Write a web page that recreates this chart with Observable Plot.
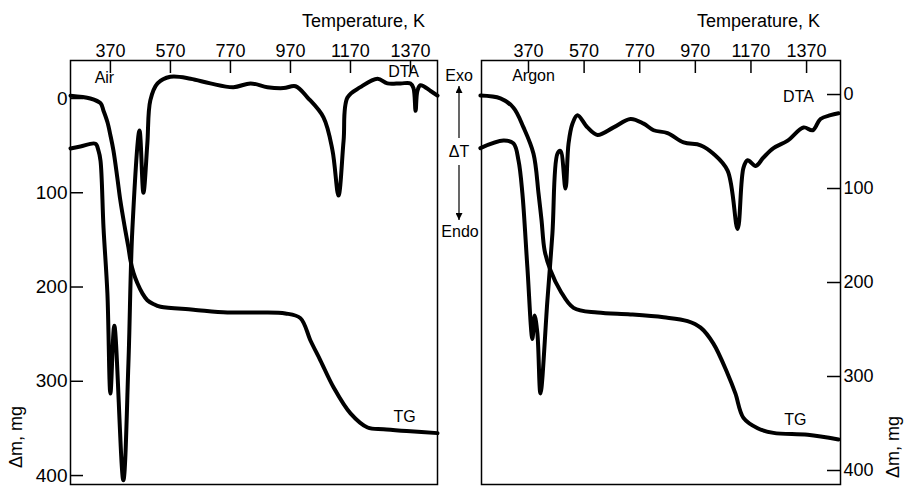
<!DOCTYPE html>
<html>
<head>
<meta charset="utf-8">
<script src="https://cdn.jsdelivr.net/npm/d3@7"></script>
<script src="https://cdn.jsdelivr.net/npm/@observablehq/plot@0.6"></script>
<style>
html, body { margin: 0; padding: 0; background: #fff; }
#wrap { position: relative; width: 904px; height: 486px; overflow: hidden;
  font-family: "Liberation Sans", Arial, sans-serif; color: #000; }
.panel { position: absolute; top: 0; }
.title { position: absolute; font-size: 18px; white-space: nowrap; transform: translate(-100%, -50%); }
.ylab { position: absolute; font-size: 18px; white-space: nowrap; transform: translate(-50%, -50%) rotate(-90deg); }
#mid { position: absolute; left: 0; top: 0; pointer-events: none; }
</style>
</head>
<body>
<div id="wrap"></div>
<script>
// ---- axis ticks ----
const tempTicks = [370, 570, 770, 970, 1170, 1370];
const massTicks = [0, 100, 200, 300, 400];

// ---- Air panel ----
const airTgT = [237,303,337,347,360,370,380,393,403,417,430,437,447,460,477,493,513,537,647,760,870,953,1003,1037,1070,1113,1170,1227,1280,1370,1460];
const airTgM = [-3,0,5,13,25,39,55,84,108,135,158,172,185,196,207,214,218,221,224,227,227,228,233,257,278,306,334,349,351,353,355];
const airDtaT = [237,270,320,330,337,347,360,370,383,413,430,443,467,480,493,503,527,570,637,703,780,837,893,947,987,1027,1080,1110,1130,1147,1160,1203,1260,1293,1337,1370,1380,1387,1393,1403,1437,1460];
const airDtaV = [53,51,48,55,66,137,207,313,241,405,281,140,34,100,48,2,-16,-23,-21,-16,-12,-16,-12,-11,-13,-1,20,55,103,45,-1,-12,-21,-16,-16,-16,-11,13,-8,-14,-8,-3];

// ---- Argon panel ----
const arTgT = [197,269,316,352,388,406,417,428,449,485,532,618,737,856,942,989,1035,1086,1114,1143,1194,1251,1374,1485];
const arTgM = [1,4,14,35,63,105,134,166,187,209,227,232,234,237,241,248,265,297,318,344,355,360,362,367];
const arDtaT = [197,280,316,334,348,366,384,392,402,413,438,456,474,485,503,514,528,546,582,618,676,737,784,820,870,928,989,1035,1086,1122,1143,1158,1187,1215,1251,1302,1359,1392,1420,1456,1485];
const arDtaV = [57,49,52,70,105,184,260,235,254,318,219,148,63,60,100,52,31,22,35,43,35,26,31,38,41,51,54,63,81,143,78,70,76,67,57,49,35,38,26,22,20];

// ---- annotation labels (data units) ----
const airLabelText = ["Air", "DTA", "TG"];
const airLabelT = [350, 1347, 1350];
const airLabelM = [-22, -28, 338];
const arLabelText = ["Argon", "DTA", "TG"];
const arLabelT = [388, 1341, 1330];
const arLabelM = [-20, 3, 346];

const zip = (xs, ys) => xs.map((x, i) => ({T: x, v: ys[i]}));
const zipL = (ts, xs, ys) => ts.map((t, i) => ({text: t, T: xs[i], v: ys[i]}));

const FONT = '"Liberation Sans", Arial, sans-serif';
const H = 486, MT = 60, MB = 2, TICK = 13;

function panel({width, marginLeft, marginRight, xDomain, yDomain, yAnchor, yFont, tg, dta, labels}) {
  const innerW = width - marginLeft - marginRight;
  const innerH = H - MT - MB;
  const yTickInset = yAnchor === "left" ? {insetRight: innerW - TICK} : {insetLeft: innerW - TICK};
  return Plot.plot({
    width, height: H,
    marginTop: MT, marginBottom: MB, marginLeft, marginRight,
    style: {fontFamily: FONT, fontSize: "17px", color: "#000", background: "transparent", overflow: "visible"},
    x: {domain: xDomain},
    y: {domain: yDomain},
    marks: [
      Plot.frame({stroke: "#000", strokeWidth: 1.5}),
      Plot.tickX(tempTicks, {x: d => d, stroke: "#000", strokeWidth: 1.5, insetBottom: innerH - TICK}),
      Plot.tickY(massTicks, {y: d => d, stroke: "#000", strokeWidth: 1.5, ...yTickInset}),
      Plot.axisX(tempTicks, {anchor: "top", tickSize: 0, tickPadding: 4, label: null, fontSize: 18, tickFormat: d => String(d)}),
      Plot.axisY(massTicks, {anchor: yAnchor, tickSize: 0, tickPadding: 3, label: null, fontSize: yFont, tickFormat: d => String(d)}),
      Plot.line(tg, {x: "T", y: "v", stroke: "#000", strokeWidth: 4, curve: "catmull-rom"}),
      Plot.line(dta, {x: "T", y: "v", stroke: "#000", strokeWidth: 4, curve: "catmull-rom"}),
      Plot.text(labels, {x: "T", y: "v", text: "text", fontSize: 16, fill: "#000"})
    ]
  });
}

const wrap = document.getElementById("wrap");

const left = panel({
  width: 450, marginLeft: 70, marginRight: 13,
  xDomain: [237, 1460], yDomain: [409.5, -40.3], yAnchor: "left", yFont: 19,
  tg: zip(airTgT, airTgM), dta: zip(airDtaT, airDtaV),
  labels: zipL(airLabelText, airLabelT, airLabelM)
});
left.classList.add("panel"); left.style.left = "0px";
wrap.appendChild(left);

const right = panel({
  width: 454, marginLeft: 31, marginRight: 64,
  xDomain: [201, 1492], yDomain: [414.9, -36.2], yAnchor: "right", yFont: 18,
  tg: zip(arTgT, arTgM), dta: zip(arDtaT, arDtaV),
  labels: zipL(arLabelText, arLabelT, arLabelM)
});
right.classList.add("panel"); right.style.left = "450px";
wrap.appendChild(right);

// titles
for (const xr of [425, 820]) {
  const d = document.createElement("div");
  d.className = "title"; d.textContent = "Temperature, K";
  d.style.left = xr + "px"; d.style.top = "21px";
  wrap.appendChild(d);
}
// rotated y labels
for (const [cx, cy] of [[16, 437], [893, 447]]) {
  const d = document.createElement("div");
  d.className = "ylab"; d.textContent = "Δm, mg";
  d.style.left = cx + "px"; d.style.top = cy + "px";
  wrap.appendChild(d);
}

// middle Exo / ΔT / Endo indicator
const svg = d3.select(wrap).append("svg").attr("id", "mid").attr("width", 904).attr("height", 486);
const defs = svg.append("defs");
defs.append("marker").attr("id", "ah").attr("viewBox", "0 0 10 10").attr("refX", 10).attr("refY", 5)
  .attr("markerWidth", 12).attr("markerHeight", 7).attr("markerUnits", "userSpaceOnUse").attr("orient", "auto")
  .append("path").attr("d", "M0,0L10,5L0,10z").attr("fill", "#000");
const g = svg.append("g").attr("font-family", FONT).attr("font-size", 16).attr("text-anchor", "middle");
g.append("text").attr("x", 459).attr("y", 75).attr("dy", "0.35em").text("Exo");
g.append("line").attr("x1", 459).attr("y1", 138).attr("x2", 459).attr("y2", 86)
  .attr("stroke", "#000").attr("stroke-width", 1.2).attr("marker-end", "url(#ah)");
g.append("text").attr("x", 459).attr("y", 151).attr("dy", "0.35em").text("ΔT");
g.append("line").attr("x1", 459).attr("y1", 165).attr("x2", 459).attr("y2", 220)
  .attr("stroke", "#000").attr("stroke-width", 1.2).attr("marker-end", "url(#ah)");
g.append("text").attr("x", 460).attr("y", 231).attr("dy", "0.35em").text("Endo");
</script>
</body>
</html>
